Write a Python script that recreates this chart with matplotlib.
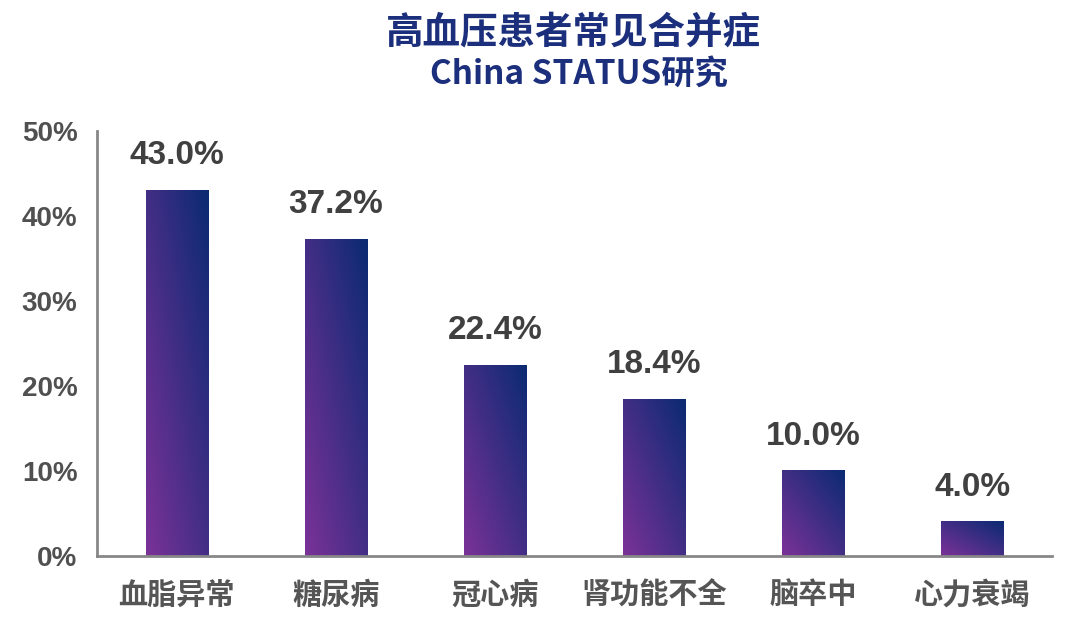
import numpy as np
import matplotlib
matplotlib.use("Agg")
import matplotlib.pyplot as plt
from matplotlib.colors import LinearSegmentedColormap

categories = ["血脂异常", "糖尿病", "冠心病", "肾功能不全", "脑卒中", "心力衰竭"]
values = [43.0, 37.2, 22.4, 18.4, 10.0, 4.0]
yticks = [0, 10, 20, 30, 40, 50]
ytick_labels = ["0%", "10%", "20%", "30%", "40%", "50%"]
title = "高血压患者常见合并症"
subtitle = "China STATUS研究"

cjk = ["Noto Sans CJK SC", "DejaVu Sans"]
num = ["Liberation Sans", "DejaVu Sans"]

fig = plt.figure(figsize=(10.8, 6.29), dpi=100)
ax = fig.add_axes([0.0898, 0.116, 0.884, 0.676])

cmap = LinearSegmentedColormap.from_list("g", ["#7B3298", "#0A2A72"])

bars = ax.bar(range(len(values)), values, width=0.39, color="none", edgecolor="none")
n = 200
u = np.linspace(0, 1, n)
U, V = np.meshgrid(u, u)
T = (U + V) / 2.0
for b in bars:
    x0 = b.get_x()
    w = b.get_width()
    h = b.get_height()
    ax.imshow(T, cmap=cmap, vmin=0, vmax=1, origin="lower", aspect="auto",
              extent=(x0, x0 + w, 0, h), interpolation="bilinear", zorder=2)

for i, v in enumerate(values):
    ax.annotate(f"{v:.1f}%", (i, v), xytext=(0, 14), textcoords="offset points",
                ha="center", va="bottom", fontsize=24, fontweight="bold",
                color="#404040", family=num)

ax.set_xlim(-0.5, len(values) - 0.5)
ax.set_ylim(0, 50)
ax.set_yticks(yticks)
ax.set_yticklabels(ytick_labels, fontsize=20, fontweight="bold", color="#505050", family=num)
ax.set_xticks(range(len(categories)))
ax.set_xticklabels(categories, fontsize=21, fontweight="bold", color="#555555", family=cjk)
ax.tick_params(axis="both", length=0)
ax.tick_params(axis="y", pad=14)
ax.tick_params(axis="x", pad=17)

for s in ["top", "right"]:
    ax.spines[s].set_visible(False)
for s in ["left", "bottom"]:
    ax.spines[s].set_color("#878787")
    ax.spines[s].set_linewidth(2)

fig.text(0.531, 0.949, title, ha="center", va="center", fontsize=27,
         fontweight="bold", color="#1B2F7C", family=cjk)
fig.text(0.536, 0.882, subtitle, ha="center", va="center", fontsize=24,
         fontweight="bold", color="#1B2F7C", family=cjk)

fig.savefig("out.png", dpi=100, facecolor="white")
